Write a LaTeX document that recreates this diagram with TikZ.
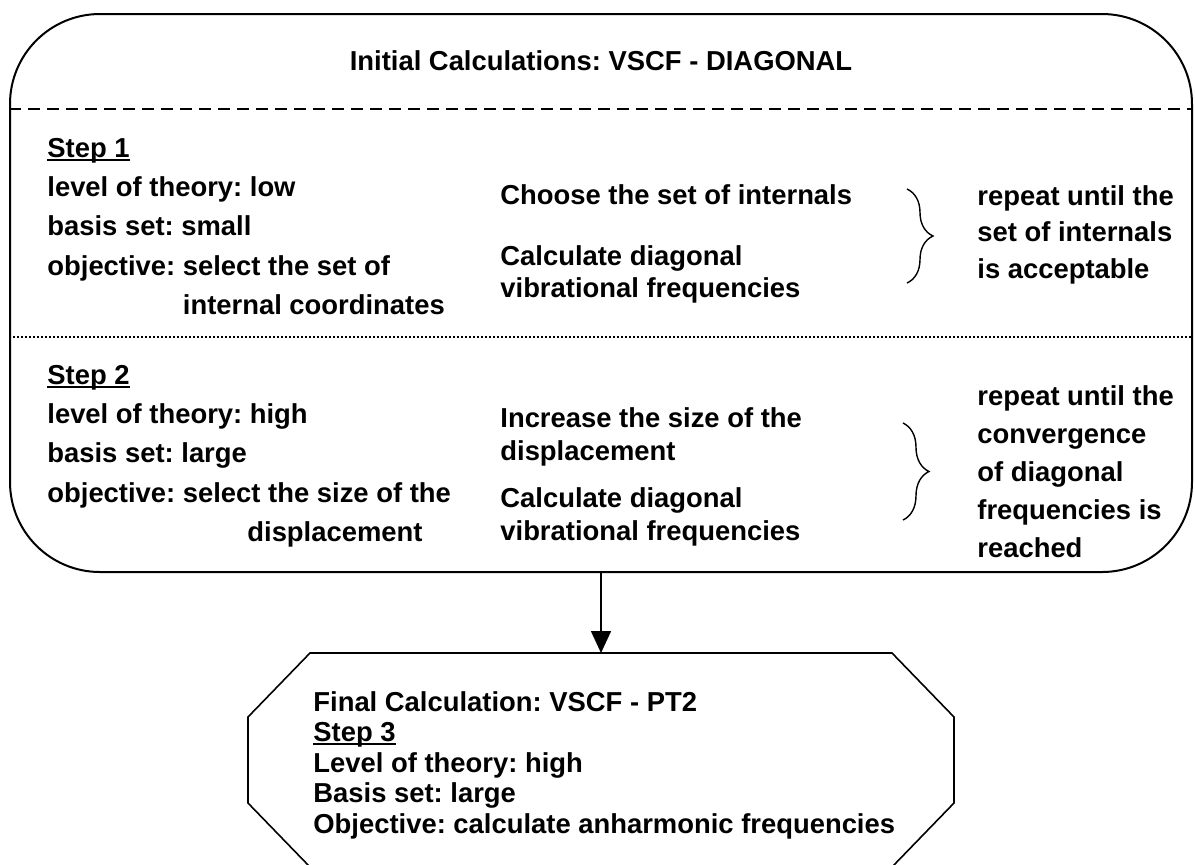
\documentclass[tikz,border=0pt]{standalone}
\usepackage{fontspec}
\setmainfont{Liberation Sans}
\usetikzlibrary{positioning,arrows.meta,decorations.pathreplacing}

\frenchspacing
\newcommand{\steplabel}[1]{\setbox0\hbox{#1}\rlap{\rule[-1.6pt]{\wd0}{0.8pt}}\box0}

\tikzset{
  stagebox/.style={draw, line width=1pt, rounded corners=45pt, minimum width=591pt, minimum height=279pt, inner sep=0pt},
  head/.style={inner sep=0pt, font=\fontsize{13.7pt}{16pt}\selectfont\bfseries},
  txt/.style={inner sep=0pt, anchor=north west, align=left, font=\fontsize{13.7pt}{#1}\selectfont\bfseries},
  splitdash/.style={line width=0.9pt, dash pattern=on 6pt off 3.5pt},
  splitdot/.style={line width=1pt, dash pattern=on 1pt off 1pt},
  loopbrace/.style={decorate, decoration={brace, amplitude=13pt}, line width=0.7pt},
  finalbox/.style={draw, line width=0.8pt},
  flow/.style={draw, line width=0.8pt, -{Triangle[length=11pt,width=10pt]}}
}

\begin{document}
\begin{tikzpicture}[x=0.5pt,y=-0.5pt]
  \useasboundingbox (0,0) rectangle (1195,864);

  % initial calculations
  \node[stagebox] (initial) at (601,293) {};
  \node[head] (title) at (601,61) {Initial Calculations: VSCF - DIAGONAL};
  \coordinate (cut1) at (0,109);
  \coordinate (cut2) at (0,337);
  \draw[splitdash] (initial.west |- cut1) -- (initial.east |- cut1);
  \draw[splitdot] (initial.west |- cut2) -- (initial.east |- cut2);

  % step 1
  \node[txt=19.6pt] (setup1) at (47,138) {\steplabel{Step 1}\\
    level of theory: low\\
    basis set: small\\
    objective: select the set of\\
    \phantom{objective: }internal coordinates};
  \node[txt=16.25pt] (choose1) at (500,184) {Choose the set of internals};
  \node[txt=16.25pt] (calc1) at (500,245) {Calculate diagonal\\vibrational frequencies};
  \coordinate (brace1a) at (907,189);
  \coordinate (brace1b) at (907,283);
  \draw[loopbrace] (brace1a) -- (brace1b);
  \node[txt=18.25pt] (until1) at (977,185) {repeat until the\\set of internals\\is acceptable};

  % step 2
  \node[txt=19.6pt] (setup2) at (47,365) {\steplabel{Step 2}\\
    level of theory: high\\
    basis set: large\\
    objective: select the size of the\\
    \hspace*{100pt}displacement};
  \node[txt=16.5pt] (incr2) at (500,407) {Increase the size of the\\displacement};
  \node[txt=16.5pt] (calc2) at (500,487) {Calculate diagonal\\vibrational frequencies};
  \coordinate (brace2a) at (903,423);
  \coordinate (brace2b) at (903,520);
  \draw[loopbrace] (brace2a) -- (brace2b);
  \node[txt=19pt] (until2) at (977,385) {repeat until the\\convergence\\of diagonal\\frequencies is\\reached};

  % final calculation
  \coordinate (oct1) at (310,653);
  \coordinate (oct2) at (892,653);
  \coordinate (oct3) at (954,717);
  \coordinate (oct4) at (954,803);
  \coordinate (oct5) at (892,867);
  \coordinate (oct6) at (310,867);
  \coordinate (oct7) at (248,803);
  \coordinate (oct8) at (248,717);
  \draw[finalbox] (oct1) -- (oct2) -- (oct3) -- (oct4) -- (oct5) -- (oct6) -- (oct7) -- (oct8) -- cycle;
  \node[txt=15.25pt] (final) at (313,691) {Final Calculation: VSCF - PT2\\
    \steplabel{Step 3}\\
    Level of theory: high\\
    Basis set: large\\
    Objective: calculate anharmonic frequencies};

  \path[flow] (initial.south) -- (initial.south |- oct1);

\end{tikzpicture}
\end{document}
